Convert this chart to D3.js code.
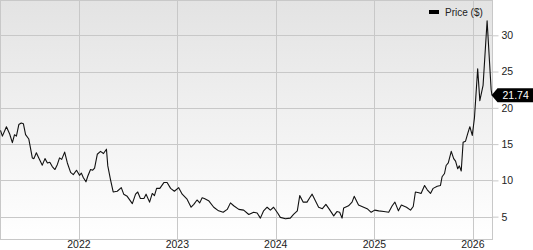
<!DOCTYPE html>
<html>
<head>
<meta charset="utf-8">
<script src="https://cdn.jsdelivr.net/npm/d3@7"></script>
<style>
  body { margin: 0; background: #fff; }
  svg { display: block; font-family: 'Liberation Sans', Arial, sans-serif; }
</style>
</head>
<body>
<div id="chart"></div>
<script>
const dates = [
  '2021-03-16', '2021-03-23', '2021-04-07', '2021-04-19', '2021-04-29', '2021-05-07', '2021-05-14',
  '2021-05-23', '2021-06-01', '2021-06-09', '2021-06-17', '2021-06-29', '2021-07-12', '2021-07-18',
  '2021-07-27', '2021-08-05', '2021-08-18', '2021-08-28', '2021-09-06', '2021-09-15', '2021-09-24',
  '2021-10-04', '2021-10-13', '2021-10-21', '2021-10-29', '2021-11-09', '2021-11-19', '2021-12-01',
  '2021-12-11', '2021-12-23', '2022-01-03', '2022-01-10', '2022-01-17', '2022-01-27', '2022-02-03',
  '2022-02-13', '2022-02-21', '2022-02-28', '2022-03-10', '2022-03-22', '2022-04-02', '2022-04-13',
  '2022-04-18', '2022-04-28', '2022-05-08', '2022-05-23', '2022-06-07', '2022-06-16', '2022-06-29',
  '2022-07-18', '2022-07-30', '2022-08-07', '2022-08-17', '2022-08-30', '2022-09-07', '2022-09-20',
  '2022-09-30', '2022-10-08', '2022-10-16', '2022-10-28', '2022-11-12', '2022-11-24', '2022-12-07',
  '2022-12-21', '2023-01-06', '2023-01-19', '2023-02-06', '2023-02-21', '2023-03-03', '2023-03-15',
  '2023-03-25', '2023-04-03', '2023-04-11', '2023-04-27', '2023-05-16', '2023-06-03', '2023-06-20',
  '2023-07-05', '2023-07-17', '2023-07-29', '2023-08-17', '2023-09-04', '2023-09-23', '2023-10-11',
  '2023-10-24', '2023-11-05', '2023-11-17', '2023-11-30', '2023-12-12', '2023-12-24', '2024-01-08',
  '2024-01-18', '2024-02-06', '2024-02-24', '2024-03-07', '2024-03-21', '2024-03-30', '2024-04-12',
  '2024-04-26', '2024-05-06', '2024-05-15', '2024-05-27', '2024-06-08', '2024-06-22', '2024-07-05',
  '2024-07-18', '2024-08-03', '2024-08-15', '2024-08-25', '2024-09-03', '2024-09-09', '2024-09-27',
  '2024-10-10', '2024-10-18', '2024-11-03', '2024-11-22', '2024-12-05', '2024-12-20', '2025-01-02',
  '2025-01-17', '2025-02-05', '2025-02-23', '2025-03-08', '2025-03-18', '2025-03-31', '2025-04-11',
  '2025-04-30', '2025-05-15', '2025-05-25', '2025-06-02', '2025-06-15', '2025-06-23', '2025-07-06',
  '2025-07-16', '2025-07-28', '2025-08-07', '2025-08-22', '2025-09-03', '2025-09-09', '2025-09-18',
  '2025-09-24', '2025-10-02', '2025-10-13', '2025-10-22', '2025-10-29', '2025-11-06', '2025-11-12',
  '2025-11-19', '2025-11-26', '2025-12-05', '2025-12-13', '2025-12-21', '2025-12-30', '2026-01-07',
  '2026-01-19', '2026-01-27', '2026-02-08', '2026-02-23', '2026-03-10', '2026-03-13'
];

const prices = [
  16.9, 16.1, 17.4, 16.4, 15.2, 16.3, 16.1,
  17.7, 17.9, 17.8, 16.3, 15.7, 13.1, 13.0,
  13.8, 13.1, 12.1, 13.0, 12.4, 12.5, 11.9,
  11.5, 12.2, 13.1, 12.9, 13.9, 12.4, 11.1,
  10.8, 11.4, 10.7, 11.0, 10.4, 9.8, 10.6,
  11.5, 11.4, 11.7, 13.6, 14.0, 13.7, 14.3,
  12.0, 10.1, 8.4, 8.5, 9.0, 8.1, 7.8,
  6.8, 8.1, 8.4, 7.5, 7.5, 8.1, 7.0,
  8.2, 7.9, 8.9, 8.9, 9.7, 9.7, 8.9,
  8.5, 9.0, 8.1, 7.4, 6.3, 6.7, 7.3,
  6.9, 7.6, 7.5, 7.2, 6.3, 5.8, 5.6,
  6.0, 6.9, 6.5, 6.0, 5.9, 5.3, 5.6,
  5.5, 4.8, 5.8, 6.3, 5.9, 6.3, 5.5,
  4.9, 4.7, 4.8, 5.3, 5.8, 7.9, 7.0,
  7.0, 7.6, 8.1, 7.2, 6.3, 6.1, 6.7,
  6.0, 5.1, 5.7, 5.6, 4.8, 6.2, 6.5,
  7.0, 7.8, 6.6, 6.3, 6.1, 5.6, 5.9,
  5.8, 5.7, 5.6, 6.5, 7.0, 5.8, 6.6,
  6.3, 5.9, 6.4, 8.4, 8.3, 8.2, 9.3,
  8.7, 8.2, 8.9, 9.2, 9.3, 10.5, 10.95,
  12.05, 12.4, 14.0, 13.0, 12.65, 11.6, 12.0,
  11.3, 15.25, 15.4, 16.45, 17.4, 16.2, 18.6,
  25.4, 21.0, 23.1, 32.0, 22.5, 21.74
];

const yTicks = [5, 10, 15, 20, 25, 30];
const xTicks = ['2022-01-01', '2023-01-01', '2024-01-01', '2025-01-01', '2026-01-01'];
const xDomain = ['2021-03-16', '2026-03-15'];
const yDomain = [1.85, 34.8];
const seriesName = 'Price ($)';
const lastPrice = 21.74;

const width = 533;
const height = 250;
const plotLeft = 0.5;
const plotRight = 492.5;
const plotTop = 0.5;
const plotBottom = 239.5;

const parse = d3.utcParse('%Y-%m-%d');
const data = dates.map((d, i) => ({ date: parse(d), price: prices[i] }));

const x = d3.scaleUtc().domain(xDomain.map(parse)).range([plotLeft, plotRight]);
const y = d3.scaleLinear().domain(yDomain).range([plotBottom, plotTop]);

const svg = d3
  .select('#chart')
  .append('svg')
  .attr('width', width)
  .attr('height', height)
  .attr('viewBox', [0, 0, width, height]);

// Background gradient of the plot area
const grad = svg
  .append('defs')
  .append('linearGradient')
  .attr('id', 'bg')
  .attr('x1', 0)
  .attr('y1', 0)
  .attr('x2', 0)
  .attr('y2', 1);
grad.append('stop').attr('offset', '0%').attr('stop-color', '#e3e3e3');
grad.append('stop').attr('offset', '100%').attr('stop-color', '#ffffff');

svg
  .append('rect')
  .attr('x', plotLeft)
  .attr('y', plotTop)
  .attr('width', plotRight - plotLeft)
  .attr('height', plotBottom - plotTop)
  .attr('fill', 'url(#bg)');

// Horizontal grid lines
svg
  .append('g')
  .selectAll('line')
  .data(yTicks)
  .join('line')
  .attr('x1', plotLeft)
  .attr('x2', plotRight)
  .attr('y1', (d) => Math.round(y(d)) + 0.5)
  .attr('y2', (d) => Math.round(y(d)) + 0.5)
  .attr('stroke', '#c8c8c8');

// Vertical grid lines
svg
  .append('g')
  .selectAll('line')
  .data(xTicks.map(parse))
  .join('line')
  .attr('x1', (d) => Math.round(x(d)) + 0.5)
  .attr('x2', (d) => Math.round(x(d)) + 0.5)
  .attr('y1', plotTop)
  .attr('y2', plotBottom)
  .attr('stroke', '#c8c8c8');

// Plot frame
svg
  .append('rect')
  .attr('x', plotLeft)
  .attr('y', plotTop)
  .attr('width', plotRight - plotLeft)
  .attr('height', plotBottom - plotTop)
  .attr('fill', 'none')
  .attr('stroke', '#c8c8c8');

// Right axis
const yAxis = svg
  .append('g')
  .attr('transform', `translate(${plotRight},0)`)
  .call(d3.axisRight(y).tickValues(yTicks).tickSize(6).tickPadding(3));
yAxis.select('.domain').remove();
yAxis.selectAll('.tick line').attr('stroke', '#c8c8c8');
yAxis
  .selectAll('.tick text')
  .attr('fill', '#222')
  .style('font-size', '10.5px')
  .style('font-family', "'Liberation Sans', Arial, sans-serif");

// Bottom axis labels
svg
  .append('g')
  .selectAll('text')
  .data(xTicks.map(parse))
  .join('text')
  .attr('x', (d) => x(d))
  .attr('y', 248)
  .attr('text-anchor', 'middle')
  .attr('fill', '#222')
  .style('font-size', '10.5px')
  .text((d) => d3.utcFormat('%Y')(d));

// Price line
const line = d3
  .line()
  .x((d) => x(d.date))
  .y((d) => y(d.price));

svg
  .append('path')
  .datum(data)
  .attr('fill', 'none')
  .attr('stroke', '#111')
  .attr('stroke-width', 1.1)
  .attr('stroke-linejoin', 'round')
  .attr('d', line);

// Last price tag
const tagY = y(lastPrice);
svg
  .append('path')
  .attr('d', `M${plotRight - 1},${tagY} L${plotRight + 5},${tagY - 7} L${width},${tagY - 7} L${width},${tagY + 7} L${plotRight + 5},${tagY + 7} Z`)
  .attr('fill', '#000');
svg
  .append('text')
  .attr('x', plotRight + 10)
  .attr('y', tagY + 4)
  .attr('fill', '#fff')
  .style('font-size', '10.5px')
  .text(lastPrice.toFixed(2));

// Handmade legend
svg
  .append('rect')
  .attr('x', 429)
  .attr('y', 10)
  .attr('width', 10)
  .attr('height', 4)
  .attr('fill', '#000');
svg
  .append('text')
  .attr('x', 445)
  .attr('y', 15.5)
  .attr('fill', '#222')
  .style('font-size', '10px')
  .text(seriesName);
</script>
</body>
</html>
